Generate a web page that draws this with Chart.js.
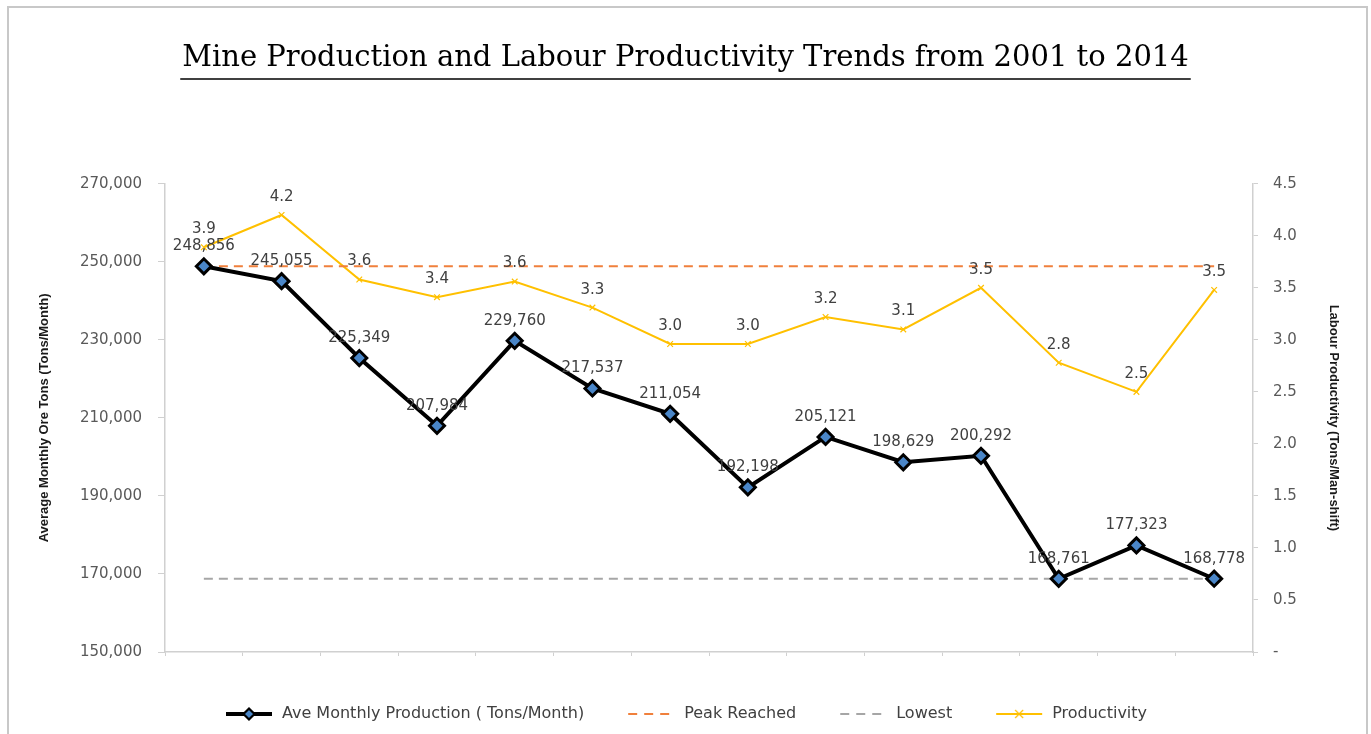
<!DOCTYPE html>
<html>
<head>
<meta charset="utf-8">
<title>Mine Production and Labour Productivity Trends from 2001 to 2014</title>
<script src="https://cdn.jsdelivr.net/npm/chart.js@4/dist/chart.umd.min.js"></script>
<style>
  html, body { margin: 0; padding: 0; background: #ffffff; }
  #wrap { position: relative; width: 1371px; height: 734px; }
</style>
</head>
<body>
<div id="wrap"><canvas id="chart"></canvas></div>
<script>
// Years on the category axis
const years = ['2001', '2002', '2003', '2004', '2005', '2006', '2007',
               '2008', '2009', '2010', '2011', '2012', '2013', '2014'];

// Average monthly ore production (tons/month)
const production = [248856, 245055, 225349, 207984, 229760, 217537, 211054,
                    192198, 205121, 198629, 200292, 168761, 177323, 168778];

// Labour productivity (tons/man-shift)
const productivity = [3.89, 4.20, 3.58, 3.41, 3.56, 3.31, 2.96,
                      2.96, 3.22, 3.10, 3.50, 2.78, 2.50, 3.48];

// Reference levels: highest and lowest monthly production
const peakLevel = 248856;
const lowestLevel = 168761;

// Axis tick values
const leftTicks = [150000, 170000, 190000, 210000, 230000, 250000, 270000];
const rightTicks = [0, 0.5, 1.0, 1.5, 2.0, 2.5, 3.0, 3.5, 4.0, 4.5];

const peakSeries = years.map(() => peakLevel);
const lowestSeries = years.map(() => lowestLevel);

const COL_PROD = '#000000';
const COL_PROD_FILL = '#4a86c8';
const COL_PEAK = '#f0803c';
const COL_LOW = '#a6a6a6';
const COL_PRODUCTIVITY = '#ffc000';
const COL_AXIS = '#d0d0d0';
const COL_TICK = '#595959';
const COL_LABEL = '#404040';
const SANS = '"DejaVu Sans", Verdana, sans-serif';
const AXIS_TITLE_FONT = '"Liberation Sans", Arial, sans-serif';
const TITLE_FONT = '"DejaVu Serif", "Liberation Serif", serif';

const fmtTons = v => Number(v).toLocaleString('en-US');
const fmtRate = v => Number(v).toFixed(1);

// Small legend swatches: line sample with the series marker
function swatch(draw) {
  const c = document.createElement('canvas');
  c.width = 50; c.height = 16;
  const g = c.getContext('2d');
  draw(g);
  return c;
}
const legendSwatches = [
  swatch(g => {
    g.strokeStyle = COL_PROD; g.lineWidth = 4;
    g.beginPath(); g.moveTo(2, 8); g.lineTo(48, 8); g.stroke();
    g.beginPath(); g.moveTo(25, 2.5); g.lineTo(30.5, 8); g.lineTo(25, 13.5); g.lineTo(19.5, 8); g.closePath();
    g.fillStyle = COL_PROD_FILL; g.fill(); g.lineWidth = 2.2; g.stroke();
  }),
  swatch(g => {
    g.strokeStyle = COL_PEAK; g.lineWidth = 2; g.setLineDash([9, 7]);
    g.beginPath(); g.moveTo(2, 8); g.lineTo(50, 8); g.stroke();
  }),
  swatch(g => {
    g.strokeStyle = COL_LOW; g.lineWidth = 2; g.setLineDash([9, 7]);
    g.beginPath(); g.moveTo(2, 8); g.lineTo(50, 8); g.stroke();
  }),
  swatch(g => {
    g.strokeStyle = COL_PRODUCTIVITY; g.lineWidth = 2;
    g.beginPath(); g.moveTo(2, 8); g.lineTo(48, 8); g.stroke();
    g.lineWidth = 1.2;
    g.beginPath(); g.moveTo(21, 4); g.lineTo(29, 12); g.moveTo(29, 4); g.lineTo(21, 12); g.stroke();
  })
];

// Outer frame and white background
const framePlugin = {
  id: 'frame',
  beforeDraw(chart) {
    const { ctx, width, height } = chart;
    ctx.save();
    ctx.fillStyle = '#ffffff';
    ctx.fillRect(0, 0, width, height);
    ctx.strokeStyle = '#c8c8c8';
    ctx.lineWidth = 2;
    ctx.strokeRect(8, 7, 1359, height + 10);
    ctx.restore();
  }
};

// Rule under the chart title
const titleRulePlugin = {
  id: 'titleRule',
  afterDraw(chart) {
    const tb = chart.titleBlock;
    if (!tb) return;
    const { ctx } = chart;
    const font = Chart.helpers.toFont(chart.options.plugins.title.font);
    ctx.save();
    ctx.font = font.string;
    const w = ctx.measureText(chart.options.plugins.title.text).width;
    const cx = (tb.left + tb.right) / 2;
    ctx.strokeStyle = '#000000';
    ctx.lineWidth = 1.6;
    ctx.beginPath();
    ctx.moveTo(cx - w / 2 - 2, 79);
    ctx.lineTo(cx + w / 2 + 2, 79);
    ctx.stroke();
    ctx.restore();
  }
};

// Value labels above the production and productivity points
const valueLabelPlugin = {
  id: 'valueLabels',
  afterDatasetsDraw(chart) {
    const { ctx } = chart;
    ctx.save();
    ctx.font = '15px ' + SANS;
    ctx.fillStyle = COL_LABEL;
    ctx.textAlign = 'center';
    ctx.textBaseline = 'middle';
    chart.data.datasets.forEach((ds, i) => {
      if (!ds.valueLabels) return;
      const meta = chart.getDatasetMeta(i);
      meta.data.forEach((pt, j) => {
        ctx.fillText(ds.valueLabels(ds.data[j]), pt.x, pt.y - ds.labelOffset);
      });
    });
    ctx.restore();
  }
};

new Chart(document.getElementById('chart'), {
  type: 'line',
  data: {
    labels: years,
    datasets: [
      {
        label: 'Ave Monthly Production ( Tons/Month)',
        data: production,
        yAxisID: 'y',
        borderColor: COL_PROD,
        borderWidth: 4,
        pointStyle: 'rectRot',
        pointRadius: 7.5,
        pointBorderWidth: 3,
        pointBackgroundColor: COL_PROD_FILL,
        pointBorderColor: COL_PROD,
        tension: 0,
        valueLabels: fmtTons,
        labelOffset: 20
      },
      {
        label: 'Peak Reached',
        data: peakSeries,
        yAxisID: 'y',
        borderColor: COL_PEAK,
        borderWidth: 2,
        borderDash: [9, 6],
        pointRadius: 0
      },
      {
        label: 'Lowest',
        data: lowestSeries,
        yAxisID: 'y',
        borderColor: COL_LOW,
        borderWidth: 2,
        borderDash: [9, 6],
        pointRadius: 0
      },
      {
        label: 'Productivity',
        data: productivity,
        yAxisID: 'y1',
        borderColor: COL_PRODUCTIVITY,
        borderWidth: 2,
        pointStyle: 'crossRot',
        pointRadius: 4,
        pointBorderWidth: 1.2,
        pointBorderColor: COL_PRODUCTIVITY,
        tension: 0,
        valueLabels: fmtRate,
        labelOffset: 18
      }
    ]
  },
  options: {
    responsive: true,
    maintainAspectRatio: false,
    animation: false,
    devicePixelRatio: 1,
    layout: { padding: { top: 8, left: 10, right: 10, bottom: 2 } },
    plugins: {
      title: {
        display: true,
        text: 'Mine Production and Labour Productivity Trends from 2001 to 2014',
        color: '#000000',
        font: { family: TITLE_FONT, size: 29, weight: 'normal', lineHeight: 1.2 },
        padding: { top: 33, bottom: 108 }
      },
      legend: {
        position: 'bottom',
        labels: {
          usePointStyle: true,
          pointStyleWidth: 50,
          padding: 42,
          color: COL_LABEL,
          font: { family: SANS, size: 16 },
          generateLabels(chart) {
            return chart.data.datasets.map((ds, i) => ({
              text: ds.label,
              pointStyle: legendSwatches[i],
              fillStyle: ds.borderColor,
              strokeStyle: ds.borderColor,
              lineWidth: 0,
              fontColor: COL_LABEL,
              hidden: !chart.isDatasetVisible(i),
              datasetIndex: i
            }));
          }
        }
      },
      tooltip: { enabled: false }
    },
    scales: {
      x: {
        type: 'category',
        offset: true,
        grid: { display: true, offset: true, drawOnChartArea: false, tickLength: 4, color: COL_AXIS },
        border: { display: true, color: COL_AXIS, width: 1.5 },
        ticks: { color: COL_TICK, font: { family: SANS, size: 15 }, padding: 8, maxRotation: 0, autoSkip: false },
        afterFit(s) { s.height = 12; }
      },
      y: {
        position: 'left',
        min: 150000,
        max: 270000,
        grid: { display: true, drawOnChartArea: false, tickLength: 7, color: COL_AXIS },
        border: { display: true, color: COL_AXIS, width: 1.5 },
        afterBuildTicks(s) { s.ticks = leftTicks.map(v => ({ value: v })); },
        ticks: { color: COL_TICK, font: { family: SANS, size: 15 }, padding: 16, callback: v => fmtTons(v) },
        title: {
          display: true,
          text: 'Average Monthly Ore Tons (Tons/Month)',
          color: '#1a1a1a',
          font: { family: AXIS_TITLE_FONT, size: 13, weight: 'bold' },
          padding: { top: 27, bottom: 0 }
        },
        afterFit(s) { s.width = 155; }
      },
      y1: {
        position: 'right',
        min: 0,
        max: 4.5,
        grid: { display: true, drawOnChartArea: false, tickLength: 5, color: COL_AXIS },
        border: { display: true, color: COL_AXIS, width: 1.5 },
        afterBuildTicks(s) { s.ticks = rightTicks.map(v => ({ value: v })); },
        ticks: { color: COL_TICK, font: { family: SANS, size: 15 }, padding: 15, callback: v => (v === 0 ? '-' : fmtRate(v)) },
        title: {
          display: true,
          text: 'Labour Productivity (Tons/Man-shift)',
          color: '#1a1a1a',
          font: { family: AXIS_TITLE_FONT, size: 13, weight: 'bold' },
          padding: { top: 20, bottom: 0 }
        },
        afterFit(s) { s.width = 108; }
      }
    }
  },
  plugins: [framePlugin, titleRulePlugin, valueLabelPlugin]
});
</script>
</body>
</html>
